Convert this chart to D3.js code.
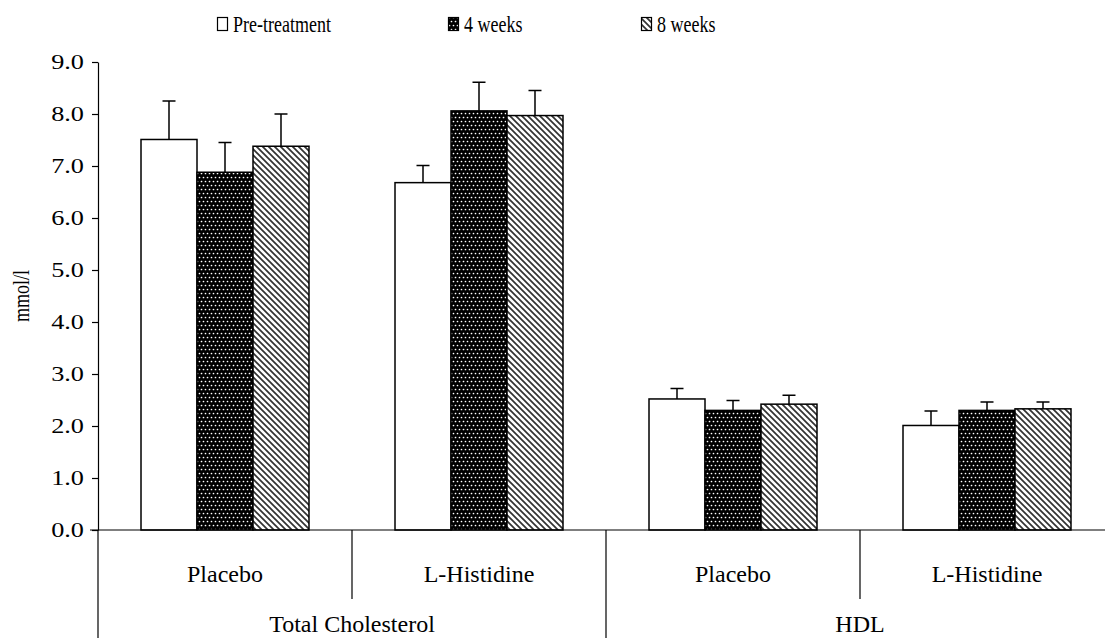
<!DOCTYPE html>
<html><head><meta charset="utf-8">
<script src="https://cdn.jsdelivr.net/npm/d3@7"></script>
<style>body{margin:0;background:#fff}svg{display:block}text{font-family:"Liberation Serif","Times New Roman",serif;fill:#000}</style>
</head><body><svg id="c" width="1105" height="638"></svg>
<script>
const groups = ["Total Cholesterol", "HDL"];
const subcats = ["Placebo", "L-Histidine"];
const series = ["Pre-treatment", "4 weeks", "8 weeks"];
const tcPlacebo = [7.51, 6.88, 7.38];
const tcPlaceboErr = [0.74, 0.57, 0.62];
const tcHis = [6.68, 8.06, 7.97];
const tcHisErr = [0.33, 0.55, 0.48];
const hdlPlacebo = [2.52, 2.30, 2.42];
const hdlPlaceboErr = [0.20, 0.19, 0.17];
const hdlHis = [2.01, 2.30, 2.33];
const hdlHisErr = [0.28, 0.16, 0.13];
const yTicks = [0, 1, 2, 3, 4, 5, 6, 7, 8, 9];

const cells = [
  {g: groups[0], s: subcats[0], v: tcPlacebo, e: tcPlaceboErr},
  {g: groups[0], s: subcats[1], v: tcHis, e: tcHisErr},
  {g: groups[1], s: subcats[0], v: hdlPlacebo, e: hdlPlaceboErr},
  {g: groups[1], s: subcats[1], v: hdlHis, e: hdlHisErr}
];
cells.forEach(c => c.key = c.g + "|" + c.s);

const svg = d3.select("#c");
const mLeft = 98, mRight = 1114, mTop = 62, mBottom = 530;
const y = d3.scaleLinear().domain([0, 9]).range([mBottom, mTop]);
const x0 = d3.scaleBand().domain(cells.map(c => c.key)).range([mLeft, mRight]).paddingInner(0).paddingOuter(0);
const xg = d3.scaleBand().domain(groups).range([mLeft, mRight]);
const x1 = d3.scaleBand().domain(series).range([0, x0.bandwidth()]).paddingInner(0).paddingOuter(0.768);

const defs = svg.append("defs");
const dots = defs.append("pattern").attr("id", "dots").attr("patternUnits", "userSpaceOnUse")
  .attr("width", 8).attr("height", 8);
dots.append("rect").attr("width", 8).attr("height", 8).attr("fill", "#000");
[[1.5,1.5],[5.5,1.5],[3.5,5.5],[7.5,5.5],[-0.5,5.5]].forEach(p =>
  dots.append("circle").attr("cx", p[0]).attr("cy", p[1]).attr("r", 0.85).attr("fill", "#fff"));
const hatch = defs.append("pattern").attr("id", "hatch").attr("patternUnits", "userSpaceOnUse")
  .attr("width", 6).attr("height", 6);
hatch.append("rect").attr("width", 6).attr("height", 6).attr("fill", "#fff");
hatch.append("path").attr("d", "M-1,-1L7,7M-4,2L2,8M4,-2L8,2").attr("stroke", "#333").attr("stroke-width", 1.7);
const fills = {"Pre-treatment": "#fff", "4 weeks": "url(#dots)", "8 weeks": "url(#hatch)"};

const tickStretch = 1.25;
const yAxis = svg.append("g").attr("transform", `translate(${mLeft},0)`)
  .call(d3.axisLeft(y).tickValues(yTicks).tickFormat(d3.format(".1f")).tickSize(6).tickPadding(9).tickSizeOuter(0));
yAxis.attr("font-family", null).attr("font-size", null);
yAxis.select(".domain").attr("stroke", "#000").attr("stroke-width", 1.2);
yAxis.selectAll(".tick line").attr("stroke", "#000").attr("stroke-width", 1.2);
yAxis.selectAll(".tick text").attr("font-size", 21).attr("fill", "#000")
  .attr("x", -14 / tickStretch).attr("transform", `scale(${tickStretch},1)`);

svg.append("text").attr("transform", `translate(29,${(mTop+mBottom)/2}) scale(1.25,1) rotate(-90)`)
  .attr("text-anchor", "middle").attr("font-size", 18).text("mmol/l");

const cg = svg.selectAll(".cell").data(cells).join("g")
  .attr("transform", d => `translate(${x0(d.key)},0)`);
const barData = d => series.map((s, i) => ({s, v: d.v[i], e: d.e[i]}));
cg.selectAll("rect.bar").data(barData).join("rect").attr("class", "bar")
  .attr("x", d => x1(d.s)).attr("width", x1.bandwidth())
  .attr("y", d => y(d.v)).attr("height", d => y(0) - y(d.v))
  .attr("fill", d => fills[d.s]).attr("stroke", "#000").attr("stroke-width", 1.5);
cg.selectAll("path.err").data(barData).join("path").attr("class", "err")
  .attr("d", d => {
    const cx = x1(d.s) + x1.bandwidth() / 2;
    return `M${cx},${y(d.v)}V${y(d.v + d.e)}M${cx-6.5},${y(d.v + d.e)}H${cx+6.5}`;
  }).attr("stroke", "#000").attr("stroke-width", 1.5).attr("fill", "none");

svg.append("line").attr("x1", mLeft - 8).attr("x2", 1105).attr("y1", mBottom).attr("y2", mBottom)
  .attr("stroke", "#000").attr("stroke-width", 1.2);
cells.forEach((c, i) => {
  const gx = x0(c.key);
  const isGroupStart = i === 0 || cells[i-1].g !== c.g;
  svg.append("line").attr("x1", gx).attr("x2", gx).attr("y1", mBottom)
    .attr("y2", isGroupStart ? 638 : 599).attr("stroke", "#000").attr("stroke-width", 1.2);
  svg.append("text").attr("x", gx + x0.bandwidth()/2).attr("y", 582)
    .attr("text-anchor", "middle").attr("font-size", 24).text(c.s);
});
groups.forEach(g => {
  svg.append("text").attr("x", xg(g) + xg.bandwidth()/2).attr("y", 632)
    .attr("text-anchor", "middle").attr("font-size", 24).text(g);
});

const legX = [217, 448, 641];
series.forEach((s, i) => {
  const lg = svg.append("g").attr("transform", `translate(${legX[i]},0)`);
  lg.append("rect").attr("x", 0.5).attr("y", 17.5).attr("width", 10).attr("height", 13)
    .attr("fill", fills[s]).attr("stroke", "#000").attr("stroke-width", 1.2);
  lg.append("text").attr("transform", "translate(16,32) scale(0.8,1)").attr("font-size", 22.5).text(s);
});
</script></body></html>
